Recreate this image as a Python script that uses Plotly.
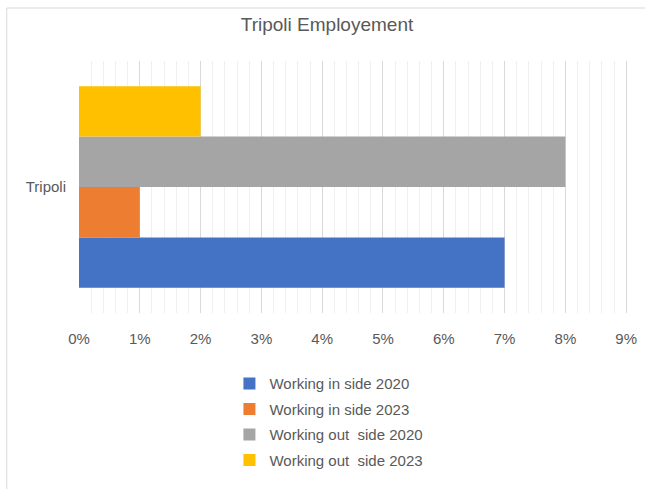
import plotly.graph_objects as go

# Employment shares for Tripoli, by working location and year
region = ["Tripoli"]
series_names = [
    "Working in side 2020",
    "Working in side 2023",
    "Working out  side 2020",
    "Working out  side 2023",
]
series_values = [0.07, 0.01, 0.08, 0.02]
series_colors = ["#4472C4", "#ED7D31", "#A5A5A5", "#FFC000"]

text_color = "#595959"
font_family = "Liberation Sans, Arial, sans-serif"

fig = go.Figure()
for i, (name, value, color) in enumerate(zip(series_names, series_values, series_colors)):
    fig.add_trace(go.Bar(
        y=region,
        x=[value],
        name=name,
        orientation="h",
        legendgroup=f"g{i}",
        marker=dict(color=color, line=dict(width=0)),
    ))

# Chart-area border: top and left edges
border = dict(color="#d9d9d9", width=1)
fig.add_shape(type="line", xref="paper", yref="paper",
              x0=-0.1316, x1=1.3, y0=1.2103, y1=1.2103, line=border, layer="below")
fig.add_shape(type="line", xref="paper", yref="paper",
              x0=-0.1316, x1=-0.1316, y0=-0.9, y1=1.2103, line=border, layer="below")

fig.update_layout(
    width=645,
    height=489,
    margin=dict(l=79, r=17, t=61, b=176, autoexpand=False),
    paper_bgcolor="white",
    plot_bgcolor="white",
    barmode="group",
    bargap=0.2,
    bargroupgap=0,
    title=dict(
        text="Tripoli Employement",
        x=0.507, xanchor="center",
        y=1 - 24 / 489, yanchor="middle",
        font=dict(family=font_family, size=19, color=text_color),
    ),
    font=dict(family=font_family, size=15, color=text_color),
    showlegend=True,
    legend=dict(
        orientation="v",
        x=0.274, xanchor="left",
        y=-0.215, yanchor="top",
        traceorder="grouped",
        tracegroupgap=3,
        font=dict(family=font_family, size=15, color=text_color),
        bgcolor="rgba(0,0,0,0)",
    ),
    xaxis=dict(
        range=[0, 0.0903],
        dtick=0.01,
        tick0=0,
        tickformat=".0%",
        showgrid=True,
        gridcolor="#d9d9d9",
        gridwidth=1,
        zeroline=False,
        showline=False,
        ticks="",
        ticklabelstandoff=15,
        tickfont=dict(family=font_family, size=15, color=text_color),
        minor=dict(dtick=0.002, showgrid=True, gridcolor="#f0f0f0", gridwidth=1),
        automargin=False,
        fixedrange=True,
    ),
    yaxis=dict(
        showgrid=False,
        zeroline=False,
        showline=False,
        ticks="",
        ticklabelstandoff=12,
        tickfont=dict(family=font_family, size=15, color=text_color),
        automargin=False,
        fixedrange=True,
    ),
)

fig.write_html("out.html")
